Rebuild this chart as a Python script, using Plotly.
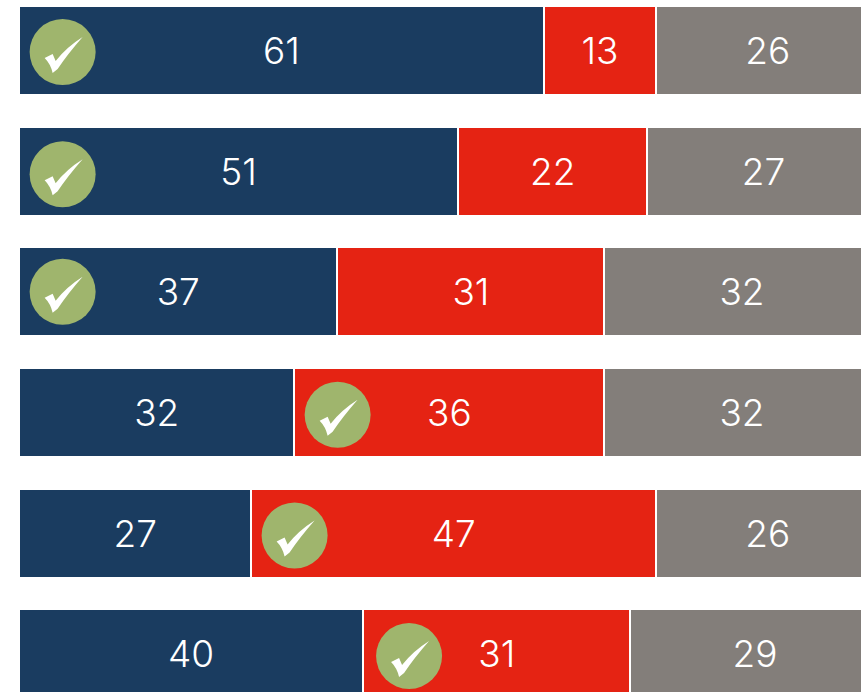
import plotly.graph_objects as go

rows = ["A", "B", "C", "D", "E", "F"]
blue_values = [61, 51, 37, 32, 27, 40]
red_values = [13, 22, 31, 36, 47, 31]
grey_values = [26, 27, 32, 32, 26, 29]
winner_series = [0, 0, 0, 1, 1, 1]

BLUE, RED, GREY, GREEN = "#1a3c60", "#e52313", "#837e7a", "#9fb56d"
PX_PER_UNIT_X = 8.607
PX_PER_ROW = 120.6
ZERO_PX = 19
FIRST_ROW_PX = 50.6
W, H = 861, 692
FONT = "Inter"
ICON_NUDGE_X = [5.07, 5.07, 5.07, 5.02, 5.02, 5.32]
ICON_NUDGE_Y = [0.012, 0.025, 0.0, 0.02, 0.02, 0.02]
TICK_PATH = "M -18 -6 L -10 -2 L -7 -9 Q 4 5 20 15 Q 5 -2 -5 -17 L -10 -21 Q -12 -12 -18 -6 Z"

fig = go.Figure()
for name, vals, col in [("blue", blue_values, BLUE), ("red", red_values, RED), ("grey", grey_values, GREY)]:
    fig.add_bar(
        name=name, y=list(range(len(rows))), x=vals, orientation="h",
        width=89 / PX_PER_ROW,
        marker=dict(color=col, line=dict(color="white", width=2)),
        text=[str(v) for v in vals], textposition="inside", insidetextanchor="middle",
        textangle=0, constraintext="none",
        textfont=dict(family=FONT, size=37, color="white", weight=300),
        hoverinfo="skip",
    )

icon_x = [(0 if w == 0 else b) + n for w, b, n in zip(winner_series, blue_values, ICON_NUDGE_X)]
icon_y = [i + d for i, d in enumerate(ICON_NUDGE_Y)]
fig.add_scatter(x=icon_x, y=icon_y, mode="markers", marker=dict(size=66, color=GREEN, line=dict(width=0)), hoverinfo="skip")

for x, y in zip(icon_x, icon_y):
    fig.add_shape(type="path", xsizemode="pixel", ysizemode="pixel", xref="x", yref="y",
                  xanchor=x, yanchor=y, path=TICK_PATH,
                  fillcolor="white", line=dict(width=0), layer="above")

fig.update_layout(
    width=W, height=H, barmode="stack", showlegend=False,
    margin=dict(l=0, r=0, t=0, b=0), paper_bgcolor="white", plot_bgcolor="white",
    xaxis=dict(range=[-ZERO_PX / PX_PER_UNIT_X, (W - ZERO_PX) / PX_PER_UNIT_X], visible=False, fixedrange=True),
    yaxis=dict(range=[(H - FIRST_ROW_PX) / PX_PER_ROW, -FIRST_ROW_PX / PX_PER_ROW], visible=False, fixedrange=True),
)
fig.write_html("out.html", config={"displayModeBar": False}, default_width=W, default_height=H,
               post_script="document.body.style.margin='0';document.body.style.overflow='hidden';")
